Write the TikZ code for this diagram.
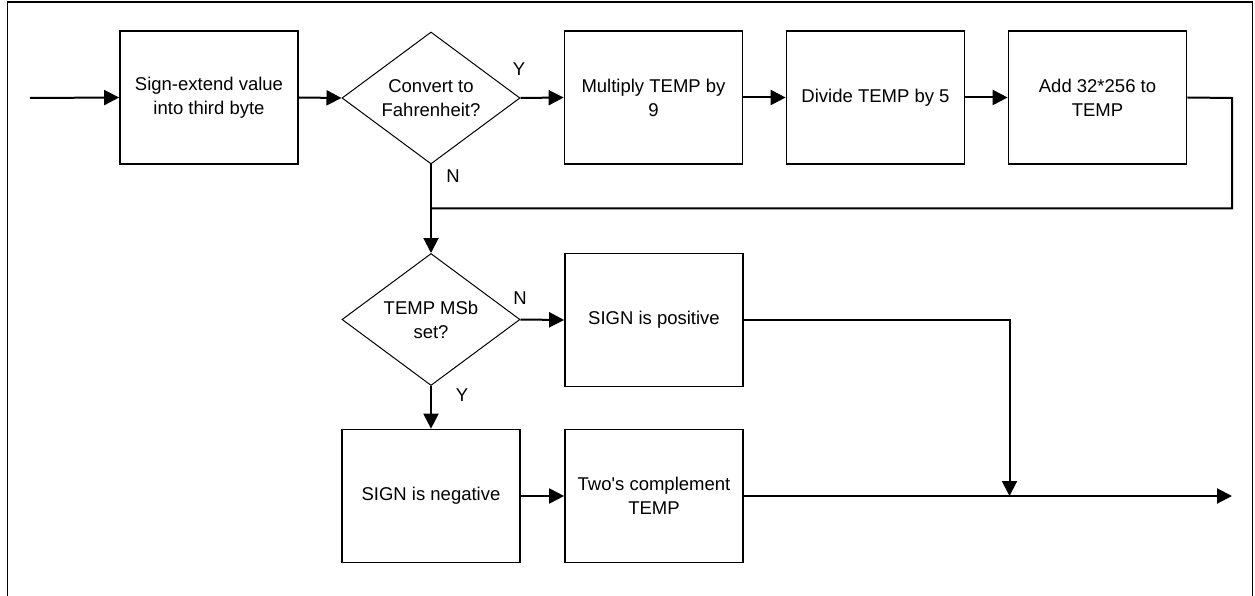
\documentclass[tikz,border=0pt]{standalone}
\usepackage{fontspec}
\setmainfont{Liberation Sans}[Ligatures=TeXOff]
\usetikzlibrary{shapes.geometric,arrows.meta}
\begin{document}
\begin{tikzpicture}[x=1pt,y=-1pt,
  txt/.style={font=\fontsize{18.5}{24}\selectfont},
  box/.style={txt,draw,line width=1.7pt,minimum width=178pt,minimum height=133pt,inner sep=0pt,align=center},
  dec/.style={txt,draw,diamond,line width=1pt,minimum width=178pt,minimum height=132pt,inner sep=0pt,align=center,shape aspect=1.35},
  conn/.style={line width=2pt},
  arr/.style={conn,-{Triangle[length=15pt,width=15pt]}},
  lbl/.style={txt,inner sep=0pt},
  frame/.style={line width=1.4pt}]
\useasboundingbox (0,0) rectangle (1255,596);
% frame
\coordinate (f1) at (7.5,596);
\coordinate (f2) at (7.5,2);
\coordinate (f3) at (1252.5,2);
\coordinate (f4) at (1252.5,596);
\draw[frame] (f1) -- (f2) -- (f3) -- (f4);
% row 1
\node[box] (b1) at (209,97.5) {Sign-extend value\\into third byte};
\node[dec] (d1) at (431,98) {Convert to\\Fahrenheit?};
\node[box] (mul) at (653.5,97.5) {Multiply TEMP by\\9};
\node[box] (div) at (875.5,97.5) {Divide TEMP by 5};
\node[box] (add) at (1097.5,97.5) {Add 32*256 to\\TEMP};
% row 2
\node[dec] (d2) at (431,319.5) {TEMP MSb\\set?};
\node[box] (pos) at (654,320) {SIGN is positive};
% row 3
\node[box] (neg) at (431,496) {SIGN is negative};
\node[box] (two) at (654,496) {Two's complement\\TEMP};
% labels
\node[lbl] (ly1) at (519,69) {Y};
\node[lbl] (ln1) at (453,176) {N};
\node[lbl] (ln2) at (520,298) {N};
\node[lbl] (ly2) at (462,395) {Y};
% coordinates
\coordinate (in) at (30,98);
\coordinate (r1) at (1232,98);
\coordinate (r2) at (1232,208.5);
\coordinate (j1) at (431,208.5);
\coordinate (j2) at (1009.5,496);
\coordinate (out) at (1232,496);
% connectors
\draw[arr] (in) -- (b1.west);
\draw[arr] (b1.east) -- (d1.west);
\draw[arr] (d1.east) -- (mul.west);
\draw[arr] (mul.east) -- (div.west);
\draw[arr] (div.east) -- (add.west);
\draw[conn] (add.east) -- (r1) -- (r2) -- (j1);
\draw[arr] (d1.south) -- (d2.north);
\draw[arr] (d2.east) -- (pos.west);
\draw[arr] (pos.east) -| (j2);
\draw[arr] (d2.south) -- (neg.north);
\draw[arr] (neg.east) -- (two.west);
\draw[arr] (two.east) -- (out);
\end{tikzpicture}
\end{document}
